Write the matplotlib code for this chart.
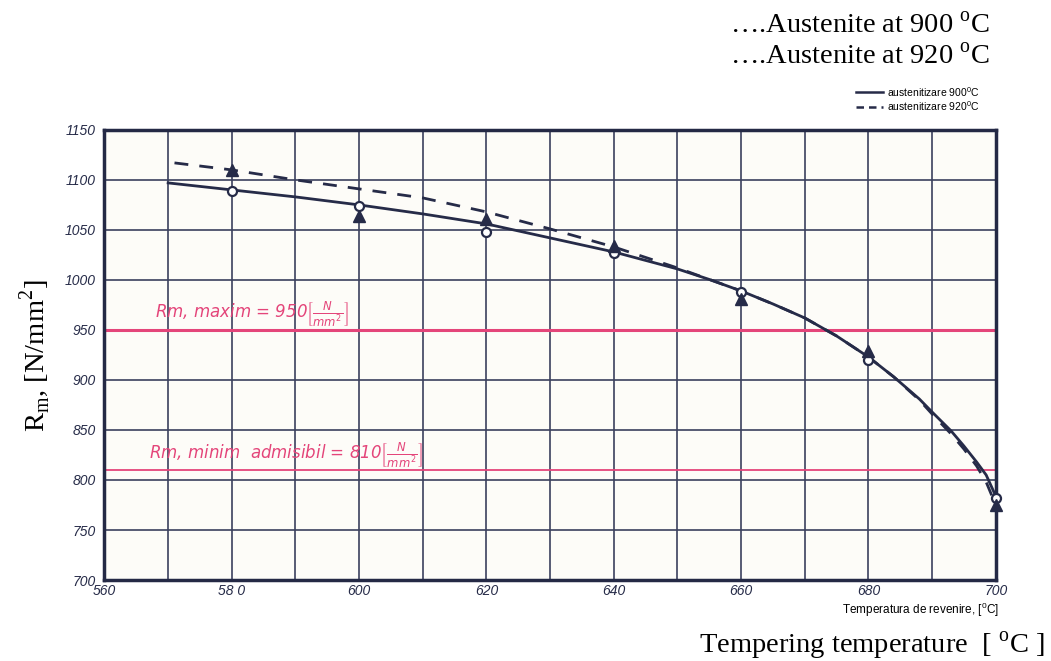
import matplotlib
matplotlib.use("Agg")
import matplotlib.pyplot as plt

# tempering temperatures with measured points
temps = [580, 600, 620, 640, 660, 680, 700]
rm_900 = [1089, 1074, 1048, 1027, 988, 920, 782]   # open circles
rm_920 = [1110, 1064, 1061, 1034, 981, 929, 775]   # filled triangles

# hand-drawn curves
curve_900_t = [570, 580, 590, 600, 610, 620, 630, 640, 650, 655, 660, 665,
               670, 675, 680, 684, 688, 690, 693, 695, 697, 698.5, 700]
curve_900_rm = [1097, 1090, 1083, 1075, 1066, 1056, 1042, 1028, 1011, 1000.5,
                989, 976, 962, 944, 923, 903, 881, 868, 849, 834, 818, 805, 784]
curve_920_t = [571, 580, 590, 600, 610, 620, 630, 640, 650, 655, 660, 665,
               670, 675, 680, 684, 688, 690, 693, 695, 697, 698.5, 700]
curve_920_rm = [1117, 1110, 1100, 1091, 1082, 1068, 1051, 1033, 1012, 1000.5,
                989, 976, 962, 944, 923, 903, 880, 866, 846, 831, 814, 798, 775]

# limit lines
rm_max = 950
rm_min = 810

x_ticks = [560, 580, 600, 620, 640, 660, 680, 700]
x_ticklabels = ["560", "58 0", "600", "620", "640", "660", "680", "700"]
y_ticks = [700, 750, 800, 850, 900, 950, 1000, 1050, 1100, 1150]

ink = "#262b48"
pink = "#e4457a"
narrow = ["Liberation Sans Narrow", "Liberation Sans"]

fig = plt.figure(figsize=(10.51, 6.61), dpi=100)
ax = fig.add_axes([0.0994, 0.1225, 0.848, 0.681])
ax.set_facecolor("#fdfcf8")

ax.set_xlim(560, 700)
ax.set_ylim(700, 1150)

# millimetre-paper style grid
for t in range(570, 700, 10):
    ax.axvline(t, color="#3b405e", lw=1.2, zorder=1)
for v in range(750, 1150, 50):
    ax.axhline(v, color="#3b405e", lw=1.2, zorder=1)

ax.axhline(rm_max, color=pink, lw=2.2, zorder=2)
ax.axhline(rm_min, color=pink, lw=1.3, zorder=2)

ax.text(568, 966, r"Rm, maxim = 950$\left[\frac{N}{mm^2}\right]$",
        color=pink, fontsize=12, style="italic", va="center", zorder=3)
ax.text(567, 825, r"Rm, minim  admisibil = 810$\left[\frac{N}{mm^2}\right]$",
        color=pink, fontsize=12, style="italic", va="center", zorder=3)

ax.plot(curve_900_t, curve_900_rm, color=ink, lw=2, zorder=4)
ax.plot(curve_920_t, curve_920_rm, color=ink, lw=2, dashes=(5, 4), zorder=4)
ax.plot(temps, rm_900, "o", ms=6.5, mfc="white", mec=ink, mew=1.6, zorder=5,
        clip_on=False)
ax.plot(temps, rm_920, "^", ms=8, color=ink, zorder=5, clip_on=False)

for side in ax.spines.values():
    side.set_linewidth(2.5)
    side.set_color("#242945")

ax.set_xticks(x_ticks)
ax.set_xticklabels(x_ticklabels)
ax.set_yticks(y_ticks)
ax.tick_params(length=0, labelsize=10, labelcolor=ink)
ax.tick_params(axis="x", pad=3)
ax.tick_params(axis="y", pad=6)
for lab in ax.get_xticklabels() + ax.get_yticklabels():
    lab.set_fontstyle("italic")
    lab.set_family(narrow)

# labels outside the axes
fig.text(0.034, 0.462, r"R$_{\mathregular{m}}$, [N/mm$^{\mathregular{2}}$]",
         rotation=90, fontsize=20.5, family="Liberation Serif",
         ha="center", va="center")
fig.text(0.942, 0.961, r"….Austenite at 900 $^{\mathregular{o}}$C",
         fontsize=20.5, family="Liberation Serif", ha="right", va="center")
fig.text(0.942, 0.913, r"….Austenite at 920 $^{\mathregular{o}}$C",
         fontsize=20.5, family="Liberation Serif", ha="right", va="center")
fig.text(0.951, 0.077, r"Temperatura de revenire, [$^{\mathregular{0}}$C]",
         fontsize=8.5, family=narrow, ha="right", va="center")
fig.text(0.994, 0.023, r"Tempering temperature  [ $^{\mathregular{o}}$C ]",
         fontsize=20.5, family="Liberation Serif", ha="right", va="center")

# small legend drawn as in the original sheet
leg = fig.add_axes([0.812, 0.83, 0.14, 0.04])
leg.set_xlim(0, 1)
leg.set_ylim(0, 1)
leg.axis("off")
leg.plot([0.02, 0.2], [0.78, 0.78], color=ink, lw=1.8)
leg.plot([0.02, 0.2], [0.22, 0.22], color=ink, lw=1.8, dashes=(3, 2))
leg.text(0.23, 0.78, r"austenitizare 900$^{\mathregular{0}}$C",
         fontsize=7.5, family=narrow, va="center")
leg.text(0.23, 0.22, r"austenitizare 920$^{\mathregular{0}}$C",
         fontsize=7.5, family=narrow, va="center")

fig.savefig("out.png", dpi=100, facecolor="white")
